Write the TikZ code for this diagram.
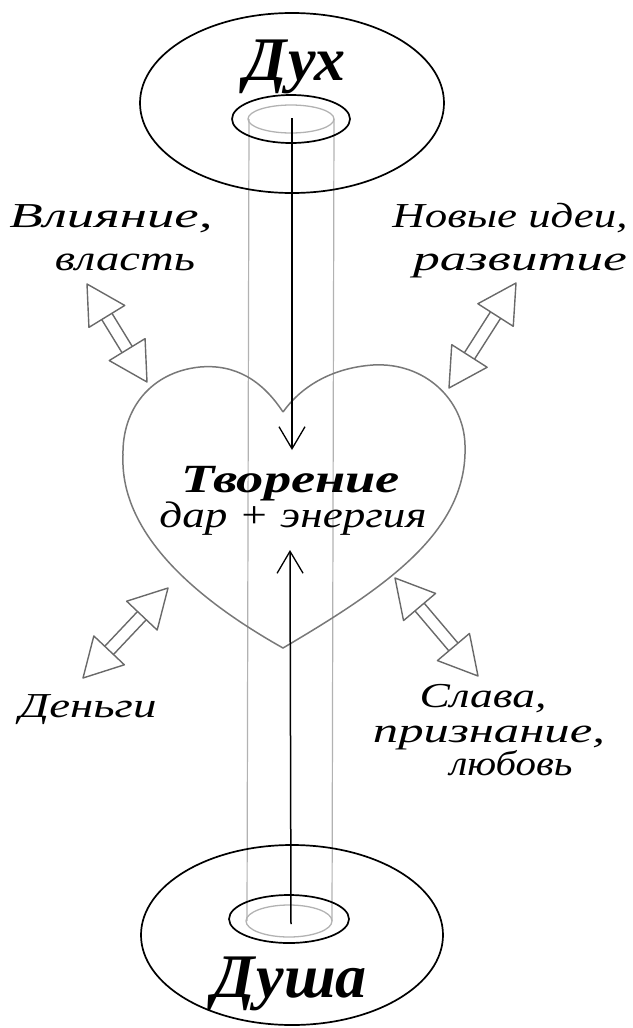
\documentclass[tikz,border=0pt]{standalone}
\usepackage{fontspec}
\usepackage{graphicx}
\setmainfont{Liberation Serif}
\usetikzlibrary{calc,arrows.meta}
\definecolor{arrgray}{RGB}{105,105,105}
\definecolor{heartgray}{RGB}{120,120,120}
\definecolor{cylgray}{RGB}{178,178,178}
\newcommand\fitw[2]{\resizebox{#1}{\height}{#2}}
% double-headed hollow arrow between two named coordinates
\newcommand\dblarr[3]{%
  \coordinate (#3m1) at ($(#1)!38pt!(#2)$);
  \coordinate (#3m2) at ($(#2)!38pt!(#1)$);
  \draw[hollowarr] (#1) -- ($(#3m1)!21pt!90:(#2)$) -- ($(#3m1)!21pt!-90:(#2)$) -- cycle;
  \draw[hollowarr] (#2) -- ($(#3m2)!21pt!90:(#1)$) -- ($(#3m2)!21pt!-90:(#1)$) -- cycle;
  \draw[hollowarr] ($(#3m1)!6pt!90:(#2)$) -- ($(#3m2)!6pt!-90:(#1)$);
  \draw[hollowarr] ($(#3m1)!6pt!-90:(#2)$) -- ($(#3m2)!6pt!90:(#1)$);
}
\begin{document}
\begin{tikzpicture}[x=1pt,y=-1pt,
  ring/.style={draw=black,line width=1.7pt},
  innerring/.style={draw=cylgray,line width=1.3pt},
  cyl/.style={draw=cylgray,line width=1.2pt},
  heartline/.style={draw=heartgray,line width=1.5pt},
  hollowarr/.style={draw=arrgray,line width=1.4pt,line join=round},
  flow/.style={draw=black,line width=1.5pt,-{Straight Barb[length=22pt,width=26pt,line width=1.3pt]}},
  big/.style={inner sep=0pt,anchor=base,font=\bfseries\itshape\fontsize{62}{62}\selectfont},
  mid/.style={inner sep=0pt,anchor=base,font=\bfseries\itshape\fontsize{40}{40}\selectfont},
  lbl/.style={inner sep=0pt,anchor=base,font=\itshape\fontsize{35}{35}\selectfont}]
\useasboundingbox (0,0) rectangle (632,1028);

% cylinder (gray)
\draw[innerring] (291,119) ellipse [x radius=43, y radius=14];
\draw[innerring] (289,921) ellipse [x radius=43, y radius=16];
\coordinate (cylTL) at (249,119);
\coordinate (cylBL) at (247,921);
\coordinate (cylTR) at (334,119);
\coordinate (cylBR) at (332,921);
\draw[cyl] (cylTL) -- (cylBL);
\draw[cyl] (cylTR) -- (cylBR);

% discs
\draw[ring] (292,103) ellipse [x radius=152, y radius=90];
\draw[ring] (291,119) ellipse [x radius=59, y radius=24];
\draw[ring] (292,935) ellipse [x radius=151, y radius=90];
\draw[ring] (289,919) ellipse [x radius=60, y radius=24];

% heart
\draw[heartline] (283,412) .. controls (262,380) and (235,364) .. (200,367)
  .. controls (150,372) and (122,410) .. (123,455)
  .. controls (120,525) and (180,590) .. (283,648)
  .. controls (390,585) and (468,530) .. (465,445)
  .. controls (464,400) and (425,362) .. (373,365)
  .. controls (330,368) and (300,388) .. (283,412);

% texts
\node[big] (spirit) at (295,80) {Дух};
\node[big] (soul) at (290,997) {Душа};
\node[mid] (creation) at (291,492) {\fitw{218pt}{Творение}};
\node[mid,font=\itshape\fontsize{37}{37}\selectfont] (gift) at (293,527) {\fitw{267pt}{дар + энергия}};

\node[lbl] (infl1) at (111,227) {\fitw{203pt}{Влияние,}};
\node[lbl] (infl2) at (125,270) {\fitw{140pt}{власть}};
\node[lbl] (ideas1) at (510,227) {\fitw{235pt}{Новые идеи,}};
\node[lbl] (ideas2) at (520,270) {\fitw{214pt}{развитие}};
\node[lbl] (money) at (88,717) {\fitw{137pt}{Деньги}};
\node[lbl] (fame1) at (483,707) {\fitw{127pt}{Слава,}};
\node[lbl] (fame2) at (489,742) {\fitw{232pt}{признание,}};
\node[lbl] (fame3) at (511,775) {\fitw{123pt}{любовь}};

% vertical flows
\coordinate (spiritAxis) at (292,118);
\coordinate (heartIn) at (292,450);
\coordinate (soulAxis) at (291,924);
\coordinate (heartUp) at (290,550);
\draw[flow] (spiritAxis) -- (heartIn);
\draw[flow] (soulAxis) -- (heartUp);

% double arrows
\coordinate (tlA) at (87,284);  \coordinate (tlB) at (147,382);
\coordinate (trA) at (516,283); \coordinate (trB) at (449,388);
\coordinate (blA) at (168,588); \coordinate (blB) at (83,678);
\coordinate (brA) at (395,578); \coordinate (brB) at (478,676);
\dblarr{tlA}{tlB}{tl}
\dblarr{trA}{trB}{tr}
\dblarr{blA}{blB}{bl}
\dblarr{brA}{brB}{br}
\end{tikzpicture}
\end{document}
